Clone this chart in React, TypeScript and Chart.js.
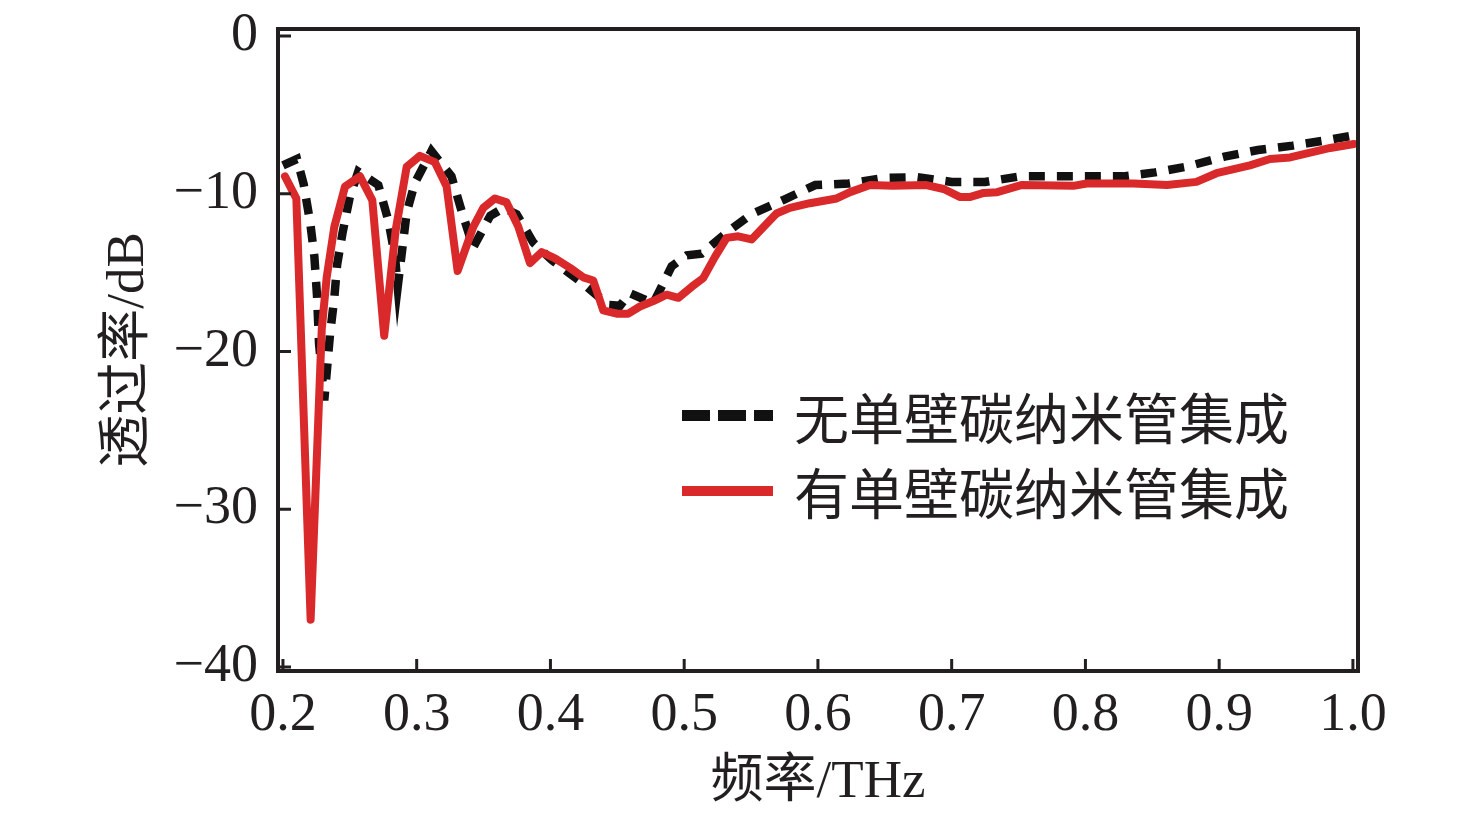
import { useEffect, useRef } from 'react'
import Chart from 'chart.js/auto'

// 有单壁碳纳米管集成 (red, solid)
const redFreq = [
  0.2015, 0.21, 0.2207, 0.229, 0.2327, 0.2384, 0.2464, 0.2576, 0.2668, 0.2757,
  0.2843, 0.2925, 0.3024, 0.3136, 0.3224, 0.3306, 0.3423, 0.3498, 0.3585, 0.3672,
  0.376, 0.3847, 0.3934, 0.4034, 0.4146, 0.4245, 0.432, 0.4395, 0.4495, 0.4582,
  0.4669, 0.4769, 0.4869, 0.4956, 0.5056, 0.5142, 0.523, 0.5317, 0.5404, 0.5504,
  0.569, 0.579, 0.594, 0.614, 0.624, 0.639, 0.656, 0.681, 0.694, 0.706,
  0.714, 0.724, 0.734, 0.752, 0.791, 0.801, 0.836, 0.861, 0.883, 0.898,
  0.923, 0.938, 0.953, 0.968, 0.983, 1.0007,
]
const redDb = [
  -8.9, -10.3, -37.0, -18.6, -15.3, -12.1, -9.55, -8.9, -10.4, -19.0,
  -12.3, -8.3, -7.6, -8.0, -9.55, -14.9, -12.1, -10.9, -10.3, -10.55,
  -12.1, -14.4, -13.7, -14.1, -14.7, -15.3, -15.5, -17.4, -17.6, -17.6,
  -17.15, -16.8, -16.4, -16.6, -15.9, -15.35, -14.0, -12.8, -12.7, -12.9,
  -11.25, -10.9, -10.6, -10.3, -9.9, -9.45, -9.5, -9.45, -9.7, -10.2,
  -10.2, -9.95, -9.9, -9.45, -9.5, -9.35, -9.35, -9.45, -9.25, -8.7,
  -8.2, -7.8, -7.7, -7.4, -7.1, -6.85,
]

// 无单壁碳纳米管集成 (black, dashed)
const blackFreq = [
  0.2, 0.2105, 0.2155, 0.2205, 0.2235, 0.2255, 0.227, 0.2309, 0.2352, 0.2384,
  0.2405, 0.2445, 0.25, 0.2563, 0.2713, 0.2788, 0.2838, 0.2858, 0.2925, 0.2987,
  0.311, 0.326, 0.3336, 0.3423, 0.355, 0.365, 0.3747, 0.3872, 0.401, 0.4245,
  0.4432, 0.452, 0.4594, 0.4769, 0.4906, 0.502, 0.513, 0.5342, 0.5504, 0.574,
  0.598, 0.623, 0.649, 0.674, 0.7, 0.725, 0.751, 0.776, 0.802, 0.828,
  0.852, 0.876, 0.904, 0.929, 0.955, 0.981, 1.0007,
]
const blackDb = [
  -8.2, -7.8, -9.4, -11.9, -14.0, -16.5, -19.5, -23.1, -18.9, -16.6,
  -14.5, -12.5, -10.2, -8.6, -9.45, -11.7, -14.0, -15.9, -11.2, -9.3,
  -7.3, -8.9, -11.1, -13.4, -11.4, -10.9, -11.3, -13.1, -14.2, -15.7,
  -17.05, -17.1, -16.3, -16.95, -14.6, -13.9, -13.8, -12.3, -11.3, -10.4,
  -9.45, -9.35, -9.0, -8.95, -9.25, -9.25, -8.9, -8.9, -8.9, -8.9,
  -8.65, -8.28, -7.65, -7.23, -6.95, -6.6, -6.3,
]

const xTicks = [0.2, 0.3, 0.4, 0.5, 0.6, 0.7, 0.8, 0.9, 1.0]
const yTicks = [0, -10, -20, -30, -40]

const redLabel = '有单壁碳纳米管集成'
const blackLabel = '无单壁碳纳米管集成'

const RED = '#d9292b'
const BLACK = '#111111'
const AXIS = '#231f20'
const SERIF = "'Liberation Serif', 'Noto Sans CJK SC', serif"

const framePlugin = {
  id: 'frame',
  afterDatasetsDraw(chart: Chart) {
    const { ctx, chartArea: a, scales } = chart
    ctx.save()
    ctx.strokeStyle = AXIS
    ctx.lineWidth = 3
    ctx.beginPath()
    xTicks.forEach((v) => {
      const px = scales.x.getPixelForValue(v)
      ctx.moveTo(px, a.bottom)
      ctx.lineTo(px, a.bottom - 12)
    })
    yTicks.forEach((v) => {
      const py = scales.y.getPixelForValue(v)
      ctx.moveTo(a.left, py)
      ctx.lineTo(a.left + 13, py)
    })
    ctx.stroke()
    ctx.lineWidth = 4
    ctx.strokeRect(a.left, a.top, a.right - a.left, a.bottom - a.top)
    ctx.restore()
  },
}

function App() {
  const canvasRef = useRef<HTMLCanvasElement | null>(null)

  useEffect(() => {
    if (!canvasRef.current) {
      return undefined
    }

    const chart = new Chart(canvasRef.current, {
      type: 'line',
      data: {
        datasets: [
          {
            label: redLabel,
            data: redFreq.map((x, i) => ({ x, y: redDb[i] })),
            borderColor: RED,
            borderWidth: 8,
            pointRadius: 0,
            tension: 0,
            borderJoinStyle: 'round',
            borderCapStyle: 'round',
            fill: false,
          },
          {
            label: blackLabel,
            data: blackFreq.map((x, i) => ({ x, y: blackDb[i] })),
            borderColor: BLACK,
            borderWidth: 8.5,
            borderDash: [16, 12],
            pointRadius: 0,
            tension: 0,
            fill: false,
          },
        ],
      },
      options: {
        responsive: true,
        maintainAspectRatio: false,
        animation: false,
        layout: {
          padding: { top: 29, right: 118, left: 0, bottom: 0 },
        },
        plugins: {
          legend: { display: false },
          tooltip: { enabled: false },
        },
        scales: {
          x: {
            type: 'linear',
            min: 0.1963,
            max: 1.0038,
            afterBuildTicks: (scale) => {
              scale.ticks = xTicks.map((value) => ({ value }))
            },
            afterFit: (scale) => {
              scale.height = 150
              scale.paddingLeft = 0
              scale.paddingRight = 0
            },
            grid: { display: false },
            border: { display: false },
            ticks: {
              color: AXIS,
              padding: 4,
              maxRotation: 0,
              font: { family: SERIF, size: 54 },
              callback: (v) => Number(v).toFixed(1),
            },
            title: {
              display: true,
              text: '频率/THz',
              color: AXIS,
              font: { family: SERIF, size: 53 },
              padding: { top: 0, bottom: 6 },
            },
          },
          y: {
            min: -40.25,
            max: 0.44,
            afterBuildTicks: (scale) => {
              scale.ticks = yTicks.map((value) => ({ value }))
            },
            afterFit: (scale) => {
              scale.width = 278
              scale.paddingTop = 0
              scale.paddingBottom = 0
            },
            grid: { display: false },
            border: { display: false },
            ticks: {
              color: AXIS,
              padding: 12,
              font: { family: SERIF, size: 54 },
              callback: (v) => {
                const n = Number(v)
                return n === 0 ? '0' : '\u2212' + Math.abs(n)
              },
            },
            title: {
              display: true,
              text: '透过率/dB',
              color: AXIS,
              font: { family: SERIF, size: 53 },
              padding: { top: 97, bottom: 0 },
            },
          },
        },
      },
      plugins: [framePlugin],
    })

    return () => {
      chart.destroy()
    }
  }, [])

  const rowStyle = {
    display: 'flex',
    alignItems: 'center',
    height: 75,
  }
  const textStyle = {
    marginLeft: 21,
    fontFamily: "'Noto Sans CJK SC', sans-serif",
    fontSize: 55,
    color: AXIS,
    lineHeight: '75px',
    whiteSpace: 'nowrap' as const,
  }

  return (
    <div
      style={{
        position: 'fixed',
        left: 0,
        top: 0,
        width: 1476,
        height: 821,
        background: '#ffffff',
      }}
    >
      <canvas ref={canvasRef} />
      <div style={{ position: 'absolute', left: 682, top: 378 }}>
        <div style={rowStyle}>
          <div
            style={{
              width: 91,
              height: 11,
              background: `repeating-linear-gradient(90deg, ${BLACK} 0 28px, transparent 28px 36px)`,
            }}
          />
          <span style={textStyle}>{blackLabel}</span>
        </div>
        <div style={rowStyle}>
          <div style={{ width: 91, height: 10, background: RED }} />
          <span style={textStyle}>{redLabel}</span>
        </div>
      </div>
    </div>
  )
}

export default App
